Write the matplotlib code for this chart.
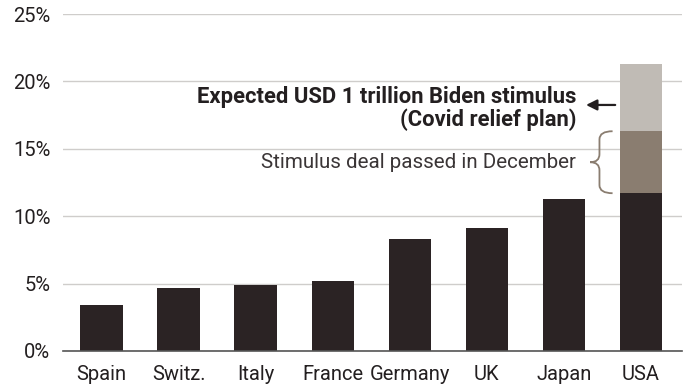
import matplotlib.pyplot as plt
from matplotlib.path import Path
from matplotlib.patches import PathPatch
import numpy as np

plt.rcParams['font.family'] = ['Roboto', 'DejaVu Sans']

countries = ['Spain', 'Switz.', 'Italy', 'France', 'Germany', 'UK', 'Japan', 'USA']
base = [3.4, 4.7, 4.9, 5.2, 8.3, 9.1, 11.3, 11.7]
december_deal = [0, 0, 0, 0, 0, 0, 0, 4.6]
biden_plan = [0, 0, 0, 0, 0, 0, 0, 5.0]

dark = '#2b2324'
mid = '#8a7d70'
light = '#c0bbb5'

fig = plt.figure(figsize=(6.84, 3.89), dpi=100)
ax = fig.add_axes([0.092, 0.098, 0.905, 0.866])

x = np.arange(len(countries))
b1 = np.array(base)
b2 = b1 + np.array(december_deal)
ax.bar(x, base, 0.55, color=dark, zorder=3)
ax.bar(x, december_deal, 0.55, bottom=b1, color=mid, zorder=3)
ax.bar(x, biden_plan, 0.55, bottom=b2, color=light, zorder=3)

ax.set_xlim(-0.5, 7.53)
ax.set_ylim(0, 25)
ax.set_yticks(np.arange(0, 26, 5))
ax.set_yticklabels(['%d%%' % v for v in range(0, 26, 5)])
ax.set_xticks(x)
ax.set_xticklabels(countries)
ax.tick_params(axis='both', length=0, labelsize=14.5, colors='#231f20')
ax.tick_params(axis='x', pad=10)
ax.tick_params(axis='y', pad=9)
ax.grid(axis='y', color='#cfcdcb', linewidth=1, zorder=0)
for s in ['top', 'right', 'left']:
    ax.spines[s].set_visible(False)
ax.spines['bottom'].set_color('#555555')
ax.spines['bottom'].set_linewidth(1.2)
ax.spines['bottom'].set_zorder(4)

ax.text(6.16, 18.85, 'Expected USD 1 trillion Biden stimulus', ha='right', va='center',
        fontsize=15.8, fontweight='bold', color='#231f20')
ax.text(6.16, 17.15, '(Covid relief plan)', ha='right', va='center',
        fontsize=15.8, fontweight='bold', color='#231f20')
ax.text(6.16, 13.95, 'Stimulus deal passed in December', ha='right', va='center',
        fontsize=14.8, color='#3a3536')
ax.annotate('', xy=(6.25, 18.25), xytext=(6.7, 18.25),
            arrowprops=dict(arrowstyle='-|>', color='#231f20', lw=1.6, mutation_scale=16))

# curly brace
top, bot, tip = b2[-1], b1[-1], (b1[-1] + b2[-1]) / 2
xe, xm, xt = 6.63, 6.46, 6.34
verts = [(xe, top), (xm, top), (xm, top - 0.6),
         (xm, tip + 0.6), (xm, tip), (xt, tip),
         (xm, tip), (xm, tip - 0.6),
         (xm, bot + 0.6), (xm, bot), (xe, bot)]
codes = [Path.MOVETO, Path.CURVE3, Path.CURVE3,
         Path.LINETO, Path.CURVE3, Path.CURVE3,
         Path.CURVE3, Path.CURVE3,
         Path.LINETO, Path.CURVE3, Path.CURVE3]
ax.add_patch(PathPatch(Path(verts, codes), fill=False, edgecolor=mid, lw=1.3, zorder=4))

fig.savefig('out.png', dpi=100)
